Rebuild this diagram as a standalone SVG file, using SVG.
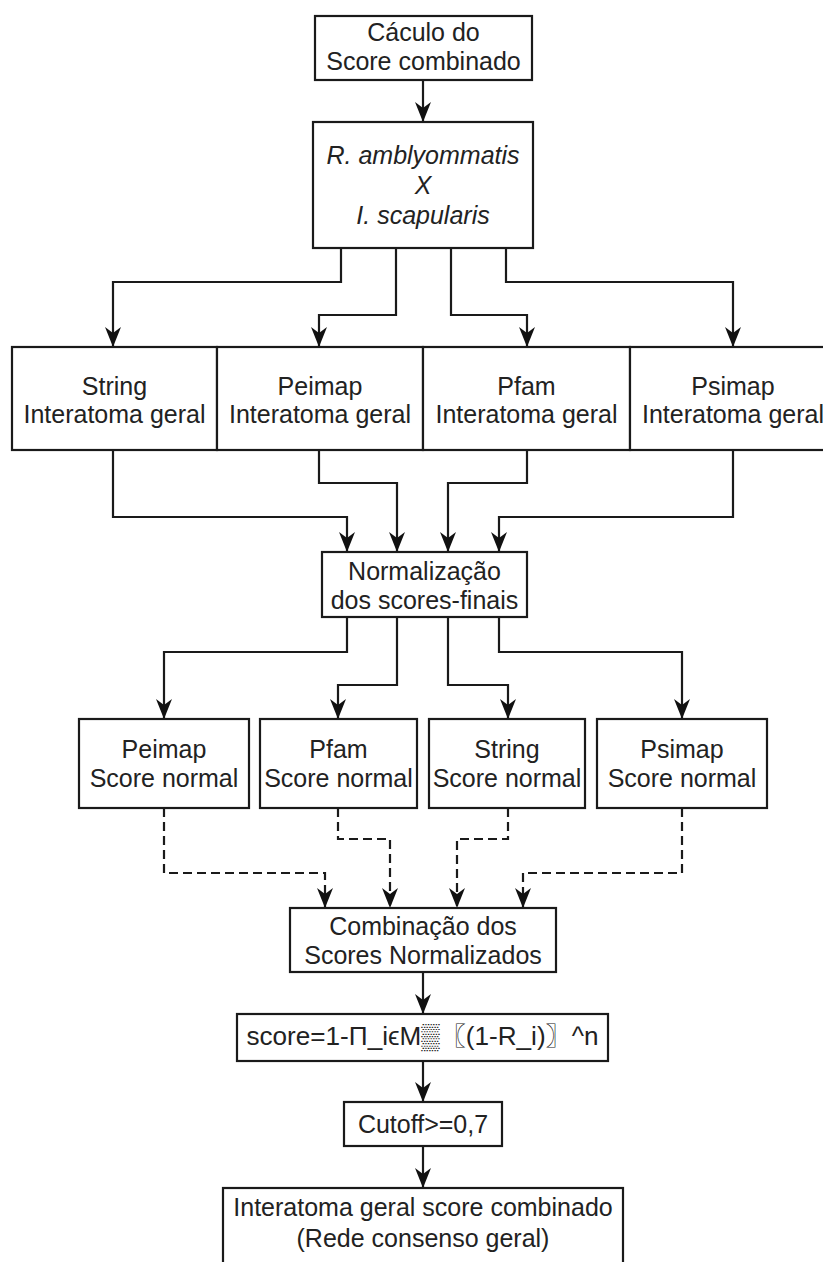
<svg xmlns="http://www.w3.org/2000/svg" width="823" height="1262" viewBox="0 0 823 1262">
<style>
.box{fill:#fff;stroke:#1a1a1a;stroke-width:2.2}
.t{font-family:"Liberation Sans",Arial,sans-serif;font-size:25px;fill:#222;text-anchor:middle}
.it{font-style:italic}
.ln{fill:none;stroke:#1a1a1a;stroke-width:2.2}
.dash{stroke-dasharray:9 5}
</style>
<defs>
<marker id="ah" markerWidth="20" markerHeight="18" viewBox="0 0 20 18" refX="20" refY="9" orient="auto" markerUnits="userSpaceOnUse">
<path d="M0,1 L20,9 L0,17 L6,9 z" fill="#111"/>
</marker>
</defs>
<rect width="823" height="1262" fill="#fff"/>
<g id="connectors">
<path class="ln" marker-end="url(#ah)" d="M423,80 V122"/>
<path class="ln" marker-end="url(#ah)" d="M341,248 V282 H113 V347"/>
<path class="ln" marker-end="url(#ah)" d="M396,248 V315 H319 V347"/>
<path class="ln" marker-end="url(#ah)" d="M451,248 V315 H527 V347"/>
<path class="ln" marker-end="url(#ah)" d="M506,248 V282 H733 V347"/>
<path class="ln" marker-end="url(#ah)" d="M113,450 V517 H347 V552"/>
<path class="ln" marker-end="url(#ah)" d="M319,450 V483 H397 V552"/>
<path class="ln" marker-end="url(#ah)" d="M527,450 V483 H448 V552"/>
<path class="ln" marker-end="url(#ah)" d="M733,450 V517 H499 V552"/>
<path class="ln" marker-end="url(#ah)" d="M347,617 V652 H164 V719"/>
<path class="ln" marker-end="url(#ah)" d="M397,617 V685 H338 V719"/>
<path class="ln" marker-end="url(#ah)" d="M448,617 V685 H508 V719"/>
<path class="ln" marker-end="url(#ah)" d="M499,617 V652 H682 V719"/>
<path class="ln dash" marker-end="url(#ah)" d="M164,808 V873 H325 V908"/>
<path class="ln dash" marker-end="url(#ah)" d="M338,808 V839 H390 V908"/>
<path class="ln dash" marker-end="url(#ah)" d="M508,808 V839 H457 V908"/>
<path class="ln dash" marker-end="url(#ah)" d="M682,808 V873 H523 V908"/>
<path class="ln" marker-end="url(#ah)" d="M423,972 V1014"/>
<path class="ln" marker-end="url(#ah)" d="M423,1061 V1102"/>
<path class="ln" marker-end="url(#ah)" d="M423,1146 V1188"/>
</g>
<g id="n-calculo">
<rect class="box" x="315" y="16" width="217" height="64"/>
<text class="t" x="423.5" y="41">Cáculo do</text>
<text class="t" x="423.5" y="70">Score combinado</text>
</g>
<g id="n-species">
<rect class="box" x="313" y="122" width="220" height="126"/>
<text class="t it" x="423" y="164">R. amblyommatis</text>
<text class="t it" x="423" y="194">X</text>
<text class="t it" x="423" y="224">I. scapularis</text>
</g>
<g id="n-string-ig">
<rect class="box" x="12" y="347" width="205" height="103"/>
<text class="t" x="114.5" y="395">String</text>
<text class="t" x="114.5" y="423">Interatoma geral</text>
</g>
<g id="n-peimap-ig">
<rect class="box" x="217" y="347" width="206" height="103"/>
<text class="t" x="320" y="395">Peimap</text>
<text class="t" x="320" y="423">Interatoma geral</text>
</g>
<g id="n-pfam-ig">
<rect class="box" x="423" y="347" width="207" height="103"/>
<text class="t" x="526.5" y="395">Pfam</text>
<text class="t" x="526.5" y="423">Interatoma geral</text>
</g>
<g id="n-psimap-ig">
<rect class="box" x="630" y="347" width="206" height="103"/>
<text class="t" x="733" y="395">Psimap</text>
<text class="t" x="733" y="423">Interatoma geral</text>
</g>
<g id="n-normalizacao">
<rect class="box" x="322" y="552" width="205" height="65"/>
<text class="t" x="424.5" y="580">Normalização</text>
<text class="t" x="424.5" y="609">dos scores-finais</text>
</g>
<g id="n-peimap-sn">
<rect class="box" x="79" y="719" width="170" height="89"/>
<text class="t" x="164" y="758">Peimap</text>
<text class="t" x="164" y="787">Score normal</text>
</g>
<g id="n-pfam-sn">
<rect class="box" x="260" y="719" width="157" height="89"/>
<text class="t" x="338.5" y="758">Pfam</text>
<text class="t" x="338.5" y="787">Score normal</text>
</g>
<g id="n-string-sn">
<rect class="box" x="429" y="719" width="156" height="89"/>
<text class="t" x="507" y="758">String</text>
<text class="t" x="507" y="787">Score normal</text>
</g>
<g id="n-psimap-sn">
<rect class="box" x="597" y="719" width="170" height="89"/>
<text class="t" x="682" y="758">Psimap</text>
<text class="t" x="682" y="787">Score normal</text>
</g>
<g id="n-combinacao">
<rect class="box" x="290" y="908" width="266" height="64"/>
<text class="t" x="423" y="935">Combinação dos</text>
<text class="t" x="423" y="964">Scores Normalizados</text>
</g>
<g id="n-formula">
<rect class="box" x="237" y="1014" width="371" height="47"/>
<text class="t" x="422.5" y="1045" textLength="352" lengthAdjust="spacingAndGlyphs" style="font-family:'Liberation Sans','Noto Sans CJK JP',sans-serif">score=1-Π_iϵM▒〖(1-R_i)〗^n</text>
</g>
<g id="n-cutoff">
<rect class="box" x="344" y="1102" width="158" height="44"/>
<text class="t" x="423" y="1133">Cutoff&gt;=0,7</text>
</g>
<g id="n-final">
<rect class="box" x="223" y="1188" width="400" height="90"/>
<text class="t" x="423" y="1216">Interatoma geral score combinado</text>
<text class="t" x="423" y="1247">(Rede consenso geral)</text>
</g>
</svg>
